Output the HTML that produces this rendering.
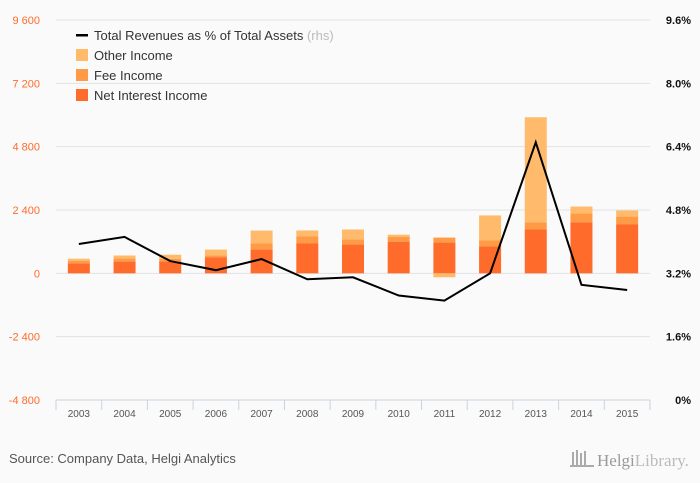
<!DOCTYPE html>
<html><head><meta charset="utf-8"><style>
body{margin:0;background:#fafafa;}
svg{display:block;font-family:"Liberation Sans",sans-serif;}
</style></head><body>
<svg id="chart" width="700" height="483">
<rect width="700" height="483" fill="#fafafa"/>
<g id="grid"></g><g id="bars"></g><g id="line"></g><g id="axes"></g>
<g font-size="13" fill="#333">
 <g><rect x="76" y="34" width="12" height="2.5" fill="#000"/><text x="94" y="40">Total Revenues as % of Total Assets <tspan fill="#bbb">(rhs)</tspan></text></g>
 <g><rect x="76" y="49" width="12" height="12" fill="#ffbb6b"/><text x="94" y="60">Other Income</text></g>
 <g><rect x="76" y="69" width="12" height="12" fill="#ff9a47"/><text x="94" y="80">Fee Income</text></g>
 <g><rect x="76" y="89" width="12" height="12" fill="#ff6b2b"/><text x="94" y="100">Net Interest Income</text></g>
</g>
<text x="9" y="463" font-size="13" fill="#555">Source: Company Data, Helgi Analytics</text>
<g fill="#aaa">
 <rect x="572" y="452" width="2" height="14"/><rect x="576" y="450" width="2" height="16"/><rect x="580" y="453" width="2" height="13"/><rect x="584" y="451" width="2" height="15"/><rect x="570" y="465" width="24" height="2"/>
 <text x="597" y="466" font-size="17" font-family="Liberation Serif,serif" fill="#999">Helgi<tspan fill="#bbb">Library.</tspan></text>
</g>
</svg>
<script>
const years=["2003","2004","2005","2006","2007","2008","2009","2010","2011","2012","2013","2014","2015"];
const netInterest=[380,445,455,610,900,1130,1090,1200,1165,1015,1660,1925,1850];
const feeIncome=[100,115,100,75,230,265,190,190,190,230,265,340,300];
const otherIncome=[75,115,150,215,490,230,380,75,-150,950,3990,265,230];
const ratioPct=[3.94,4.12,3.51,3.28,3.56,3.05,3.10,2.64,2.51,3.20,6.51,2.91,2.78];
const leftTicks=[-4800,-2400,0,2400,4800,7200,9600];
const rightTicks=[0,1.6,3.2,4.8,6.4,8,9.6];
const NS="http://www.w3.org/2000/svg";
const X0=56,X1=650,Y0=400,Y1=20;
const step=(X1-X0)/years.length;
const xc=i=>X0+step*(i+0.5);
const yL=v=>Y0-(v+4800)/14400*(Y0-Y1);
const yR=v=>Y0-v/9.6*(Y0-Y1);
function mk(tag,attrs,parent){const e=document.createElementNS(NS,tag);for(const k in attrs)e.setAttribute(k,attrs[k]);parent.appendChild(e);return e;}
const grid=document.getElementById('grid'),bars=document.getElementById('bars'),line=document.getElementById('line'),axes=document.getElementById('axes');
const fmt=v=>{const s=Math.abs(v).toString().replace(/\B(?=(\d{3})+$)/,' ');return (v<0?'-':'')+s;};
leftTicks.forEach(v=>{
 const y=yL(v);
 if(v!==-4800){const g=mk('line',{x1:X0,x2:X1,y1:y,y2:y,stroke:'#e2e2e2','stroke-width':1},grid);
 
 }
 const t=mk('text',{x:40,y:y+4,'text-anchor':'end','font-size':11,fill:'#ff6b2b'},axes);t.textContent=fmt(v);
 
 
});
rightTicks.forEach(v=>{
 const t=mk('text',{x:691,y:yR(v)+4,'text-anchor':'end','font-size':11,'font-weight':'bold',fill:'#111'},axes);t.textContent=(v===0?'0':v.toFixed(1))+'%';
 
 
});
const ax=mk('line',{x1:X0,x2:X1,y1:Y0,y2:Y0,stroke:'#c8d3e0'},axes);


for(let i=0;i<=years.length;i++){const tk=mk('line',{x1:X0+step*i,x2:X0+step*i,y1:Y0,y2:Y0+10,stroke:'#c8d3e0'},axes);
 
 }
years.forEach((yr,i)=>{
 const t=mk('text',{x:xc(i),y:417,'text-anchor':'middle','font-size':10,fill:'#555'},axes);t.textContent=yr;
 
 
 const w=22;
 let pos=0,neg=0;
 [[netInterest[i],'#ff6b2b','net-interest'],[feeIncome[i],'#ff9a47','fee'],[otherIncome[i],'#ffbb6b','other']].forEach(([v,c,n])=>{
  let a,b;
  if(v>=0){a=pos;b=pos+v;pos=b;}else{a=neg;b=neg+v;neg=b;}
  const r=mk('rect',{x:xc(i)-w/2,y:Math.min(yL(a),yL(b)),width:w,height:Math.abs(yL(a)-yL(b)),fill:c},bars);
  
  
 });
});
const p=mk('polyline',{points:ratioPct.map((v,i)=>xc(i)+','+yR(v)).join(' '),fill:'none',stroke:'#000','stroke-width':2,'stroke-linejoin':'miter'},line);


</script>
</body></html>
